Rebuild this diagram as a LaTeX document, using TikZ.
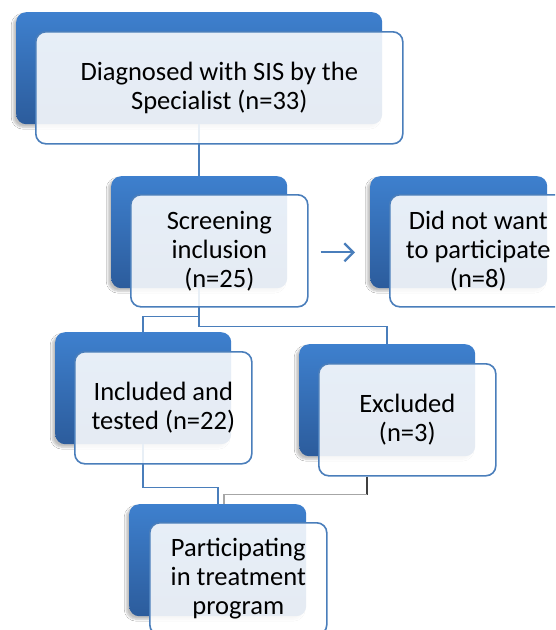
\documentclass[tikz,border=0pt]{standalone}
\usepackage{fontspec}
\setmainfont{Carlito}
\usetikzlibrary{arrows.meta,calc,shadows.blur}
\definecolor{btop}{HTML}{3E80CE}
\definecolor{bbot}{HTML}{2C5C9C}
\definecolor{bline}{HTML}{4A7EBB}
\begin{document}
\begin{tikzpicture}[x=1pt,y=-1pt,
 backbox/.style={rectangle, rounded corners=10pt, inner sep=0pt, minimum height=112pt,
   top color=btop, bottom color=bbot, draw=none, anchor=north west,
   blur shadow={shadow xshift=-3pt,shadow yshift=-3pt,shadow opacity=25,shadow blur steps=6}},
 frontbox/.style={rectangle, rounded corners=10pt, inner sep=0pt, minimum height=112pt,
   fill=white, fill opacity=0.88, text opacity=1, draw=bline, line width=1.6pt,
   anchor=north west, align=center, font=\fontsize{26.5}{29}\selectfont},
 link/.style={draw=bline, line width=1.8pt},
]
\useasboundingbox (0,0) rectangle (555,630);
\clip (0,0) rectangle (555,630);
\fill[white] (0,0) rectangle (555,630);
% back boxes
\node[backbox, minimum width=366pt] (n1b) at (16,12) {};
\node[backbox, minimum width=176pt] (n2b) at (111,176) {};
\node[backbox, minimum width=177pt] (n3b) at (370,176) {};
\node[backbox, minimum width=176pt] (n4b) at (55,332) {};
\node[backbox, minimum width=176pt] (n5b) at (299,344) {};
\node[backbox, minimum width=177pt] (n6b) at (129,504) {};
% connectors
\draw[link] (n1b.south) -- (n2b.north);
\draw[link] (n2b.south) -- ++(0,28) -| (n4b.north);
\draw[link] (n2b.south) -- ++(0,38) -| (n5b.north);
\draw[link] (n4b.south) -- ++(0,43) -| (n6b.north);
% front boxes
\node[frontbox, minimum width=367pt] (n1) at (35,31) {Diagnosed with SIS by the\\Specialist (n=33)};
\node[frontbox, minimum width=177pt] (n2) at (130,194) {Screening\\inclusion\\(n=25)};
\node[frontbox, minimum width=177pt] (n3) at (389,194) {Did not want\\to participate\\(n=8)};
\node[frontbox, minimum width=177pt] (n4) at (74,351) {Included and\\tested (n=22)};
\node[frontbox, minimum width=177pt] (n5) at (318,363) {Excluded\\(n=3)};
\node[frontbox, minimum width=177pt] (n6) at (149,522) {Participating\\in treatment\\program};
% gray connector
\coordinate (g1) at ($(n5.south)+(-40,0)$);
\coordinate (g2) at ($(g1)+(0,18)$);
\coordinate (g3) at ($(n6b.north)+(6,0)$);
\draw[line width=1.7pt, black!75] (g1) -- (g2);
\draw[line width=1.7pt, black!35] (g2) -| (g3);
% arrow
\coordinate (a1) at ($(n2.east)+(12,1.5)$);
\coordinate (a2) at ($(n3.west)+(-34,1.5)$);
\draw[line width=2.3pt, bline, -{Straight Barb[length=9pt,width=18pt]}] (a1) -- (a2);
\end{tikzpicture}
\end{document}
